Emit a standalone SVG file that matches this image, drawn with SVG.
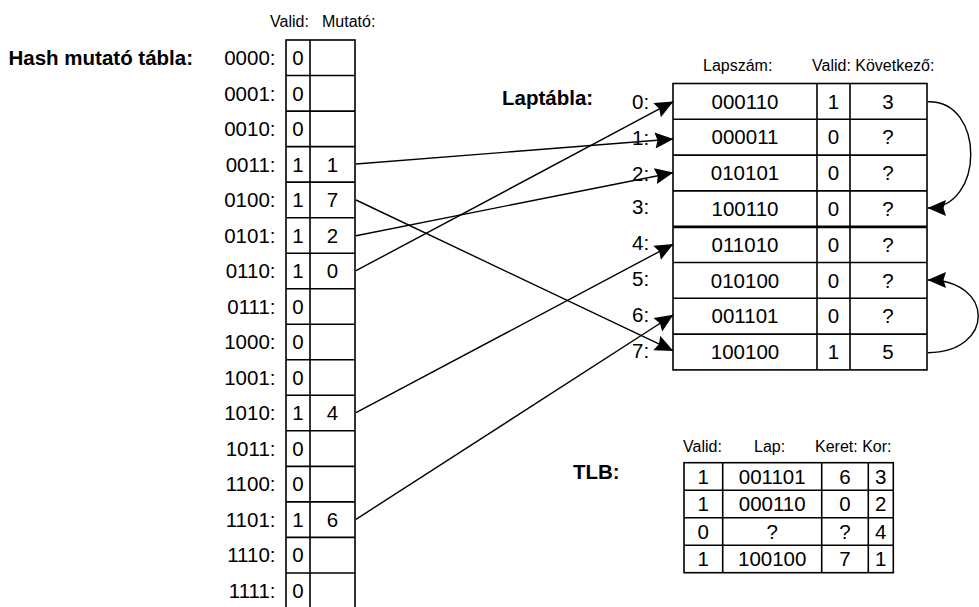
<svg xmlns="http://www.w3.org/2000/svg" width="979" height="607" viewBox="0 0 979 607">
  <style>
    .cell { fill: #fff; stroke: #000; stroke-width: 1.6; }
    .rule { stroke: #000; stroke-width: 1.6; fill: none; }
    .t { font-family: "Liberation Sans", Arial, Helvetica, sans-serif; font-size: 20.5px; fill: #000; }
    .c { text-anchor: middle; }
    .r { text-anchor: end; }
    .h { font-family: "Liberation Sans", Arial, Helvetica, sans-serif; font-size: 16px; fill: #000; }
    .b { font-family: "Liberation Sans", Arial, Helvetica, sans-serif; font-size: 20.5px; font-weight: bold; fill: #000; }
    .link { stroke: #000; stroke-width: 1.4; fill: none; marker-end: url(#head); }
  </style>
  <defs>
    <marker id="head" markerUnits="userSpaceOnUse" markerWidth="22" markerHeight="20" viewBox="-21 -10 22 20" refX="0" refY="0" orient="auto">
      <path d="M0.5,0 L-18,-8 L-15.5,0 L-18,8 Z" fill="#000"/>
    </marker>
  </defs>

  <rect width="979" height="607" fill="#fff"/>

  <!-- Hash pointer table -->
  <g id="hash-table">
    <text class="b" x="8.5" y="65">Hash mutató tábla:</text>
    <text class="h" x="270" y="26.5">Valid:</text>
    <text class="h" x="322" y="26.5">Mutató:</text>
    <rect class="cell" x="286" y="40" width="69" height="580"/>
    <line class="rule" x1="310" y1="40" x2="310" y2="620"/>
    <g class="rule">
      <line x1="286" y1="75.5" x2="355" y2="75.5"/>
      <line x1="286" y1="111.1" x2="355" y2="111.1"/>
      <line x1="286" y1="146.6" x2="355" y2="146.6"/>
      <line x1="286" y1="182.1" x2="355" y2="182.1"/>
      <line x1="286" y1="217.7" x2="355" y2="217.7"/>
      <line x1="286" y1="253.2" x2="355" y2="253.2"/>
      <line x1="286" y1="288.7" x2="355" y2="288.7"/>
      <line x1="286" y1="324.2" x2="355" y2="324.2"/>
      <line x1="286" y1="359.8" x2="355" y2="359.8"/>
      <line x1="286" y1="395.3" x2="355" y2="395.3"/>
      <line x1="286" y1="430.8" x2="355" y2="430.8"/>
      <line x1="286" y1="466.4" x2="355" y2="466.4"/>
      <line x1="286" y1="501.9" x2="355" y2="501.9"/>
      <line x1="286" y1="537.4" x2="355" y2="537.4"/>
      <line x1="286" y1="573" x2="355" y2="573"/>
    </g>
    <g class="t r">
      <text x="275.5" y="65">0000:</text>
      <text x="275.5" y="100.5">0001:</text>
      <text x="275.5" y="136">0010:</text>
      <text x="275.5" y="171.6">0011:</text>
      <text x="275.5" y="207.1">0100:</text>
      <text x="275.5" y="242.6">0101:</text>
      <text x="275.5" y="278.1">0110:</text>
      <text x="275.5" y="313.7">0111:</text>
      <text x="275.5" y="349.2">1000:</text>
      <text x="275.5" y="384.7">1001:</text>
      <text x="275.5" y="420.3">1010:</text>
      <text x="275.5" y="455.8">1011:</text>
      <text x="275.5" y="491.3">1100:</text>
      <text x="275.5" y="526.8">1101:</text>
      <text x="275.5" y="562.4">1110:</text>
      <text x="275.5" y="597.9">1111:</text>
    </g>
    <g class="t c">
      <text x="298" y="65">0</text>
      <text x="298" y="100.5">0</text>
      <text x="298" y="136">0</text>
      <text x="298" y="171.6">1</text>
      <text x="298" y="207.1">1</text>
      <text x="298" y="242.6">1</text>
      <text x="298" y="278.1">1</text>
      <text x="298" y="313.7">0</text>
      <text x="298" y="349.2">0</text>
      <text x="298" y="384.7">0</text>
      <text x="298" y="420.3">1</text>
      <text x="298" y="455.8">0</text>
      <text x="298" y="491.3">0</text>
      <text x="298" y="526.8">1</text>
      <text x="298" y="562.4">0</text>
      <text x="298" y="597.9">0</text>
      <text x="332.5" y="171.6">1</text>
      <text x="332.5" y="207.1">7</text>
      <text x="332.5" y="242.6">2</text>
      <text x="332.5" y="278.1">0</text>
      <text x="332.5" y="420.3">4</text>
      <text x="332.5" y="526.8">6</text>
    </g>
  </g>

  <!-- Page table -->
  <g id="page-table">
    <text class="b" x="502" y="105">Laptábla:</text>
    <text class="h" x="703" y="70.5">Lapszám:</text>
    <text class="h" x="812" y="70.5">Valid: Következő:</text>
    <rect class="cell" x="673" y="83.5" width="254" height="286.4"/>
    <g class="rule">
      <line x1="817" y1="83.5" x2="817" y2="369.9"/>
      <line x1="850" y1="83.5" x2="850" y2="369.9"/>
      <line x1="673" y1="119.3" x2="927" y2="119.3"/>
      <line x1="673" y1="155.1" x2="927" y2="155.1"/>
      <line x1="673" y1="190.9" x2="927" y2="190.9"/>
      <line x1="673" y1="226.9" x2="927" y2="226.9" stroke-width="2.6"/>
      <line x1="673" y1="262.5" x2="927" y2="262.5"/>
      <line x1="673" y1="298.3" x2="927" y2="298.3"/>
      <line x1="673" y1="334.1" x2="927" y2="334.1"/>
    </g>
    <g class="t">
      <text x="632" y="109">0:</text>
      <text x="632" y="144.8">1:</text>
      <text x="632" y="180.6">2:</text>
      <text x="632" y="214.4">3:</text>
      <text x="632" y="250.2">4:</text>
      <text x="632" y="286">5:</text>
      <text x="632" y="321.8">6:</text>
      <text x="632" y="357.6">7:</text>
    </g>
    <g class="t c">
      <text x="745" y="108.6">000110</text>
      <text x="833.5" y="108.6">1</text>
      <text x="888" y="108.6">3</text>
      <text x="745" y="144.4">000011</text>
      <text x="833.5" y="144.4">0</text>
      <text x="888" y="144.4">?</text>
      <text x="745" y="180.2">010101</text>
      <text x="833.5" y="180.2">0</text>
      <text x="888" y="180.2">?</text>
      <text x="745" y="216">100110</text>
      <text x="833.5" y="216">0</text>
      <text x="888" y="216">?</text>
      <text x="745" y="251.8">011010</text>
      <text x="833.5" y="251.8">0</text>
      <text x="888" y="251.8">?</text>
      <text x="745" y="287.6">010100</text>
      <text x="833.5" y="287.6">0</text>
      <text x="888" y="287.6">?</text>
      <text x="745" y="323.4">001101</text>
      <text x="833.5" y="323.4">0</text>
      <text x="888" y="323.4">?</text>
      <text x="745" y="359.2">100100</text>
      <text x="833.5" y="359.2">1</text>
      <text x="888" y="359.2">5</text>
    </g>
  </g>

  <!-- Translation lookaside buffer -->
  <g id="tlb">
    <text class="b" x="573" y="479">TLB:</text>
    <text class="h" x="683" y="451.5">Valid:</text>
    <text class="h" x="754" y="451.5">Lap:</text>
    <text class="h" x="815" y="451.5">Keret: Kor:</text>
    <rect class="cell" x="684" y="462.7" width="209.3" height="110"/>
    <g class="rule">
      <line x1="722.7" y1="462.7" x2="722.7" y2="572.7"/>
      <line x1="821.7" y1="462.7" x2="821.7" y2="572.7"/>
      <line x1="868.3" y1="462.7" x2="868.3" y2="572.7"/>
      <line x1="684" y1="490.2" x2="893.3" y2="490.2"/>
      <line x1="684" y1="517.7" x2="893.3" y2="517.7"/>
      <line x1="684" y1="545.2" x2="893.3" y2="545.2"/>
    </g>
    <g class="t c">
      <text x="703.3" y="483.6">1</text>
      <text x="772.2" y="483.6">001101</text>
      <text x="845" y="483.6">6</text>
      <text x="880.8" y="483.6">3</text>
      <text x="703.3" y="511.1">1</text>
      <text x="772.2" y="511.1">000110</text>
      <text x="845" y="511.1">0</text>
      <text x="880.8" y="511.1">2</text>
      <text x="703.3" y="538.6">0</text>
      <text x="772.2" y="538.6">?</text>
      <text x="845" y="538.6">?</text>
      <text x="880.8" y="538.6">4</text>
      <text x="703.3" y="566.1">1</text>
      <text x="772.2" y="566.1">100100</text>
      <text x="845" y="566.1">7</text>
      <text x="880.8" y="566.1">1</text>
    </g>
  </g>

  <!-- Pointers from the hash table into the page table, and the chain links -->
  <g id="connectors">
    <path class="link" d="M356,164 L673,139"/>
    <path class="link" d="M356,200 L673,350.7"/>
    <path class="link" d="M356,235.7 L673,172.7"/>
    <path class="link" d="M356,270.7 L673,101.7"/>
    <path class="link" d="M356,412.7 L673,244.3"/>
    <path class="link" d="M356,519.3 L673,315"/>
    <path class="link" d="M928,101.7 C985,100 985,208 928,208"/>
    <path class="link" d="M928,352.7 C995,352 995,280 928,280"/>
  </g>
</svg>
